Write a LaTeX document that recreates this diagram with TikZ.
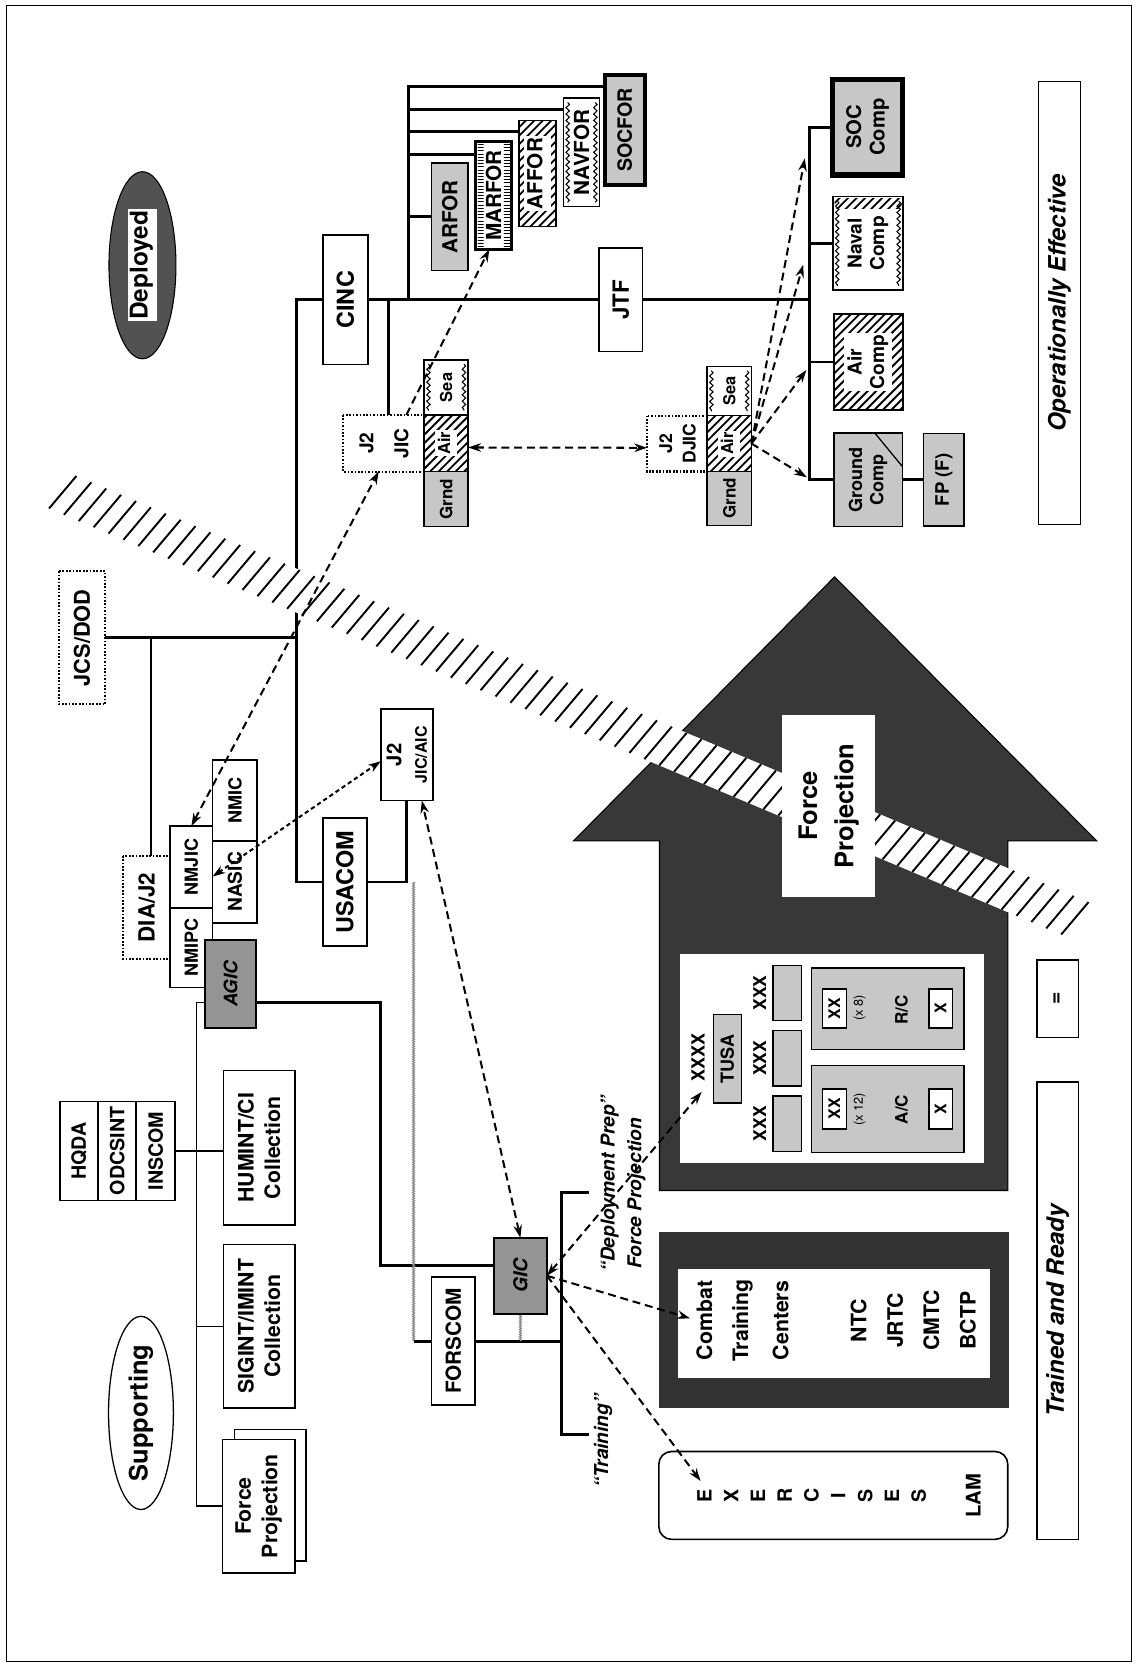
\documentclass[tikz,border=0pt]{standalone}
\usepackage{fontspec}
\setmainfont{TeX Gyre Heros}
\usepackage{tikz}
\usetikzlibrary{patterns,shapes.geometric,arrows.meta,decorations.pathmorphing}
\pgfdeclarelayer{bg}
\pgfdeclarelayer{fg}
\pgfsetlayers{bg,main,fg}
\pgfdeclarepatternformonly{hatch}{\pgfqpoint{-1pt}{-1pt}}{\pgfqpoint{9pt}{9pt}}{\pgfqpoint{8pt}{8pt}}{%
  \pgfsetlinewidth{1.7pt}%
  \pgfpathmoveto{\pgfqpoint{0pt}{0pt}}%
  \pgfpathlineto{\pgfqpoint{8.1pt}{8.1pt}}%
  \pgfusepath{stroke}}
\pgfdeclarepatternformonly{ticks}{\pgfqpoint{-1pt}{-1pt}}{\pgfqpoint{4pt}{4pt}}{\pgfqpoint{3pt}{3pt}}{%
  \pgfsetlinewidth{0.9pt}%
  \pgfpathmoveto{\pgfqpoint{-0.1pt}{1pt}}%
  \pgfpathlineto{\pgfqpoint{3.1pt}{1pt}}%
  \pgfusepath{stroke}}
\newcommand{\fsz}[2]{\fontsize{#1}{#2}\selectfont}
\newcommand{\wbg}[1]{{\setlength{\fboxsep}{1.5pt}\colorbox{white}{\begin{tabular}{@{}c@{}}#1\end{tabular}}}}
\newcommand{\wavy}[4]{\draw[wv] (#1+4,#2+4) -- (#1+4,#4-4); \draw[wv] (#3-4,#2+4) -- (#3-4,#4-4);}
\tikzset{
  every node/.style={inner sep=0pt, outer sep=0pt},
  lbl/.style={rotate=90, align=center, font=\bfseries\fsz{19}{23}},
  wh/.style 2 args={minimum width=#2pt, minimum height=#1pt},
  box/.style={lbl, draw, line width=1.5pt, fill=white},
  dotbox/.style={box, line width=1.9pt, dash pattern=on 1.6pt off 1.6pt},
  stip/.style={box, fill=black!22},
  dstip/.style={box, fill=black!42},
  hbox/.style={box, postaction={pattern=hatch}},
  forbox/.style={font=\bfseries\fsz{19.5}{23}},
  thickln/.style={line width=2.8pt},
  thinln/.style={line width=1.4pt},
  grayln/.style={draw=black!45, line width=1.2pt, decorate, decoration={zigzag, amplitude=0.8pt, segment length=2.2pt}},
  wv/.style={line width=1pt, decorate, decoration={snake, amplitude=1.6pt, segment length=6pt}},
  dsh/.style={line width=1.9pt, dash pattern=on 7.5pt off 4.5pt, >={Stealth[length=12pt,width=8pt]}},
  dsh2/.style={dsh, dash pattern=on 4pt off 3pt},
}
\begin{document}
\begin{tikzpicture}[x=1pt,y=-1pt]
\useasboundingbox (0,0) rectangle (1071,1568);
\draw[line width=1.2pt] (6,5) rectangle (1064,1563);
% ---- DEPLOYED ----
\node[ellipse, draw, line width=1pt, fill=black!68, rotate=90, minimum width=176pt, minimum height=63pt, font=\bfseries\fsz{23}{23}] (deployed) at (134,249.5) {\wbg{Deployed}};
\node[box, wh={42.5}{121.5}, font=\bfseries\fsz{22}{26}] (cinc) at (324.8,282) {CINC};
\node[box, wh={41}{97}, font=\bfseries\fsz{21}{25}] (jtf) at (584,282) {JTF};
\node[stip, forbox, wh={34.4}{101}] (arfor) at (423.1,204) {ARFOR};
\node[box, forbox, line width=3pt, wh={33.5}{101.2}] (marfor) at (464.3,183.8) {MARFOR};
\fill[pattern=ticks] (449.5,134.8) rectangle (455,232.8);
\fill[pattern=ticks] (474,134.8) rectangle (479.5,232.8);
\node[hbox, forbox, wh={34.5}{99.7}] (affor) at (505.5,163.2) {\wbg{AFFOR}};
\node[box, forbox, wh={34}{102}] (navfor) at (547,143.4) {NAVFOR};
\wavy{530}{92.4}{564}{194.4}
\node[stip, line width=4pt, wh={37.5}{103.5}, font=\bfseries\fsz{18.5}{22}] (socfor) at (587.7,122.2) {SOCFOR};
% ---- JTF COMPONENTS ----
\node[stip, line width=5pt, wh={66}{90}, font=\bfseries\fsz{19}{22}] (soccomp) at (816,119.5) {SOC\\Comp};
\node[box, wh={65.8}{88}, font=\bfseries\fsz{18}{21}] (navalcomp) at (816.4,229) {Naval\\Comp};
\wavy{783.5}{185}{849.3}{273}
\fill[pattern=hatch] (785,186.5) rectangle (848,196);
\node[hbox, wh={65}{90}, font=\bfseries\fsz{18}{21}] (aircomp) at (816.8,340.5) {\wbg{Air\\Comp}};
\node[stip, wh={64.6}{87.7}, font=\bfseries\fsz{17}{20}] (groundcomp) at (816.5,451.3) {Ground\\Comp};
\draw[line width=1.2pt] (823,407.5) -- (848.8,438.8);
\node[stip, wh={38}{87}, font=\bfseries\fsz{17.5}{21}] (fpf) at (887.8,451.3) {FP (F)};
% ---- JIC / DJIC ----
\node[dotbox, wh={76.8}{53.3}, font=\bfseries\fsz{18}{33}] (jic) at (361.2,416.9) {J2\\JIC};
\node[box, wh={41.4}{51.7}, font=\bfseries\fsz{15.5}{18}] (jicsea) at (419.7,364.4) {Sea};
\wavy{399}{338.5}{440.4}{390.2}
\node[hbox, wh={41.4}{53.3}, font=\bfseries\fsz{15.5}{18}] (jicair) at (419.7,416.9) {\wbg{Air}};
\node[stip, wh={41.4}{51.7}, font=\bfseries\fsz{16}{19}] (jicgrnd) at (419.7,469.4) {Grnd};
\node[dotbox, wh={57.3}{52.6}, font=\bfseries\fsz{16.5}{22}] (djic) at (637.3,417.2) {J2\\DJIC};
\node[box, wh={41.7}{46.1}, font=\bfseries\fsz{15.5}{18}] (djicsea) at (686,367.9) {Sea};
\wavy{665.1}{344.8}{706.8}{390.9}
\node[hbox, wh={41.7}{52.6}, font=\bfseries\fsz{15.5}{18}] (djicair) at (686,417.2) {\wbg{Air}};
\node[stip, wh={41.7}{50.8}, font=\bfseries\fsz{16}{19}] (djicgrnd) at (686,468.9) {Grnd};
\node[box, wh={39.3}{417}, font=\bfseries\itshape\fsz{22.5}{26}] (opeff) at (996.5,285) {Operationally Effective};
% ---- NATIONAL ----
\node[dotbox, wh={43.7}{125.2}, font=\bfseries\fsz{20.5}{24}] (jcs) at (77.2,600) {JCS/DOD};
\node[dotbox, wh={44}{97}, font=\bfseries\fsz{21}{25}] (diaj2) at (138,853.5) {DIA/J2};
\node[box, wh={40}{77}, font=\bfseries\fsz{17}{20}] (nmjic) at (180,815.5) {NMJIC};
\node[box, wh={40}{75}, font=\bfseries\fsz{17}{20}] (nmipc) at (180,891.5) {NMIPC};
\node[box, wh={42}{76}, font=\bfseries\fsz{17}{20}] (nmic) at (221,753) {NMIC};
\node[box, wh={42}{77}, font=\bfseries\fsz{18}{21}] (nasic) at (221,829.5) {NASIC};
\node[dstip, wh={48}{83}, font=\bfseries\itshape\fsz{17.5}{21}] (agic) at (217,925.5) {AGIC};
\node[box, wh={41.7}{120.4}, font=\bfseries\fsz{22}{26}] (usacom) at (324.4,829.6) {USACOM};
\node[box, wh={49.2}{86}, font=\bfseries\fsz{19}{24}] (jicaic) at (382.8,710) {J2\\{\fsz{15}{18}JIC/AIC}};
% ---- SUPPORTING ----
\node[box, wh={35.9}{93.3}, font=\bfseries\fsz{18.5}{22}] (hqda) at (74.3,1082.6) {HQDA};
\node[box, wh={35.9}{93.3}, font=\bfseries\fsz{18.5}{22}] (odcsint) at (110.2,1082.6) {ODCSINT};
\node[box, wh={36.5}{93.3}, font=\bfseries\fsz{18.5}{22}] (inscom) at (146.4,1082.6) {INSCOM};
\node[box, wh={67.3}{145}, font=\bfseries\fsz{20}{25}] (humint) at (243.8,1079.5) {HUMINT/CI\\Collection};
\node[box, wh={67.3}{154}, font=\bfseries\fsz{20}{25}] (sigint) at (243.8,1247.5) {SIGINT/IMINT\\Collection};
\node[box, wh={67.3}{123.7}] (fprojb) at (254.2,1406.5) {};
\node[box, wh={68.3}{125.4}, font=\bfseries\fsz{20}{25}] (fproj) at (243.4,1416.6) {Force\\Projection};
\node[ellipse, draw, line width=1.2pt, rotate=90, minimum width=176pt, minimum height=61pt, font=\bfseries\fsz{24}{28}] (supporting) at (132.6,1329) {Supporting};
\node[dstip, wh={50}{71.4}, font=\bfseries\itshape\fsz{18}{21}] (gic) at (489.5,1200) {GIC};
\node[box, wh={40.7}{120.6}, font=\bfseries\fsz{19.5}{23}] (forscom) at (426.3,1261.5) {FORSCOM};
% ---- FORCE PROJECTION ARROW ----
\draw[line width=1pt, fill=black!78] (785,542.6) -- (1031.6,791) -- (948,791) -- (948,1119.8) -- (620.3,1119.8) -- (620.3,791) -- (539.4,791) -- cycle;
\fill[white] (46.1,478.3) -- (71.9,447.7) -- (1023.9,848.5) -- (998.1,879.1) -- cycle;
\foreach \i in {0,...,68}
  \draw[line width=1.8pt] ({46.1+14*\i},{478.3+5.894*\i}) -- ({71.9+14*\i},{447.7+5.894*\i});
\node[lbl, fill=white, wh={87}{170.5}, font=\bfseries\fsz{24}{34}] (fplabel) at (779.5,758.2) {Force\\Projection};
\fill[white] (640,897) rectangle (926,1094);
\node[stip, line width=1.2pt, wh={26.6}{83.1}, font=\bfseries\fsz{17}{20}] (tusa) at (684.1,996) {TUSA};
\node[lbl, font=\bfseries\fsz{17}{20}] (xxxx) at (656.6,995) {XXXX};
\foreach \y [count=\k] in {934,995.4,1056.8}{
  \node[stip, line width=1.2pt, wh={26.8}{52}] (corps\k) at (740.4,\y) {};
  \node[lbl, font=\bfseries\fsz{16.5}{20}] (xxx\k) at (714.6,\y) {XXX};}
\node[stip, line width=1.2pt, wh={143.5}{76.8}] (rc) at (835,948.9) {};
\node[box, wh={22.5}{36.7}, font=\bfseries\fsz{15}{18}] (rcxx) at (784.8,948.7) {XX};
\node[lbl, font=\fsz{12}{14}] (rcn) at (808.6,948) {(x 8)};
\node[lbl, font=\bfseries\fsz{16}{19}] (rclbl) at (847.8,949.7) {R/C};
\node[box, wh={22}{37}, font=\bfseries\fsz{15}{18}] (rcx) at (884.8,948.5) {X};
\node[stip, line width=1.2pt, wh={143.5}{81.4}] (ac) at (835,1043.1) {};
\node[box, wh={22.5}{37.6}, font=\bfseries\fsz{15}{18}] (acxx) at (784.8,1043.1) {XX};
\node[lbl, font=\fsz{12}{14}] (acn) at (808.6,1043.7) {(x 12)};
\node[lbl, font=\bfseries\fsz{16}{19}] (aclbl) at (847.8,1043.5) {A/C};
\node[box, wh={22}{37.6}, font=\bfseries\fsz{15}{18}] (acx) at (884.8,1043.1) {X};
% ---- TRAINING ----
\fill[black!80] (619.7,1159) rectangle (948.9,1324.8);
\fill[white] (637.9,1193.2) rectangle (930.8,1295.8);
\foreach \t/\x in {Combat/662.5,Training/698.4,Centers/734.2,NTC/807.7,JRTC/841.9,CMTC/876.1,BCTP/910.3}
  \node[lbl, font=\bfseries\fsz{20}{24}] (ctc\t) at (\x,1242) {\t};
\node[box, rounded corners=12pt, wh={328.2}{82.7}] (exer) at (783.8,1406.6) {};
\foreach \c [count=\i from 0] in {E,X,E,R,C,I,S,E,S}
  \node[lbl, font=\bfseries\fsz{18.5}{21}] (exl\i) at ({662.5+25.2*\i},1406.9) {\c};
\node[lbl, font=\bfseries\fsz{19}{22}] (lam) at (915.4,1406.9) {LAM};
\node[box, wh={39.3}{430.4}, font=\bfseries\itshape\fsz{22.5}{26}] (trained) at (994.8,1232.7) {Trained and Ready};
\node[box, wh={39.3}{73}, font=\bfseries\fsz{20}{24}] (eqbox) at (994.8,939.2) {=};
\node[lbl, anchor=west, font=\bfseries\itshape\fsz{18}{22}] (deplabel) at (573.5,1196) {“Deployment Prep”};
\node[lbl, anchor=west, font=\bfseries\itshape\fsz{18}{22}] (fplabelb) at (598.6,1193) {Force Projection};
\node[lbl, font=\bfseries\itshape\fsz{18}{22}] (trainlabel) at (567.3,1355) {“Training”};
% ---- CONNECTORS ----
\coordinate (mjA) at (279,282);
\coordinate (mjJ) at (279,600);
\coordinate (mjU) at (279,829.6);
\coordinate (cbT) at (761.6,119.5);
\coordinate (cbB) at (761.6,451.3);
\coordinate (fbT) at (384,81.5);
\coordinate (fbB) at (384,282);
\coordinate (jicT) at (365,282);
\coordinate (diaT) at (142,600);
\coordinate (sbT) at (185,943);
\coordinate (sbB) at (185,1416.6);
\coordinate (agR) at (358,943);
\coordinate (agD) at (358,1190);
\coordinate (fsL) at (389,1261.5);
\coordinate (brkT) at (528,1122);
\coordinate (brkB) at (528,1349.3);
\begin{pgfonlayer}{bg}
\draw[thickln] (usacom) -- (mjU) -- (mjA) -- (cinc) -- (jtf) -- (cbB |- mjA);
\draw[thickln] (soccomp) -- (cbT) -- (cbB) -- (groundcomp) -- (fpf);
\draw[thickln] (navalcomp) -- (navalcomp -| cbT);
\draw[thickln] (aircomp) -- (aircomp -| cbT);
\draw[thickln] (jcs) -- (mjJ);
\draw[line width=1.8pt] (diaT) -- (diaT |- diaj2.east);
\draw[thickln] (usacom) -| (jicaic);
\draw[thickln] (jicT) -- (jicT |- jic.east);
\draw[thickln] (fbB) -- (fbT) -- (fbT -| socfor.north);
\foreach \n/\y in {navfor/103.4,affor/123.8,marfor/145.7}
  \draw[thickln] (fbT |- 0,\y) -- (\n.north |- 0,\y);
\draw[thickln] (fbT |- arfor) -- (arfor);
\draw[thinln] (sbT -| agic.north) -- (sbT) -- (sbB) -- (fproj);
\draw[thinln] (sbT |- sigint) -- (sigint);
\draw[thinln] (inscom) -- (inscom -| humint.north);
\draw[thickln] (agR -| agic.south) -- (agR) -- (agD) -- (agD -| gic.north);
\draw[thickln] (fsL) -- (forscom) -- (forscom -| brkT);
\draw[thickln] ([xshift=26pt]brkT) -- (brkT) -- (brkB) -- ([xshift=26pt]brkB);
\draw[grayln] (fsL |- usacom) -- (fsL);
\draw[grayln] (gic) -- (gic |- fsL);
\end{pgfonlayer}
% ---- INTELLIGENCE FLOWS ----
\coordinate (tSoc) at (757,149);
\coordinate (tNav) at (755.5,249);
\coordinate (tAir) at (758.5,348);
\coordinate (tGnd) at (759,449);
\coordinate (tTusa) at (660,1027);
\coordinate (tCtc) at (649,1240);
\coordinate (tExe) at (659,1393);
\begin{pgfonlayer}{fg}
\draw[dsh,<->] (nmjic.east) -- ([xshift=-5pt]jic.west);
\draw[dsh2,<->] ([yshift=5pt]nasic.north) -- ([yshift=-6pt]jicaic.north);
\draw[dsh,->] ([xshift=21pt]jic.east) -- ([xshift=-4pt]marfor.west);
\draw[dsh,<->] ([yshift=-4pt]jicair.south) -- ([yshift=-4pt]djic.north);
\foreach \t in {tSoc,tNav,tAir,tGnd}
  \draw[dsh,->] (djicair.south) -- (\t);
\draw[dsh,<->] (gic.east) -- ([xshift=14pt]jicaic.west);
\draw[dsh,<->] (gic.south) -- (tTusa);
\draw[dsh,->] (gic.south) -- (tCtc);
\draw[dsh,->] (gic.south) -- (tExe);
\end{pgfonlayer}
\end{tikzpicture}
\end{document}
